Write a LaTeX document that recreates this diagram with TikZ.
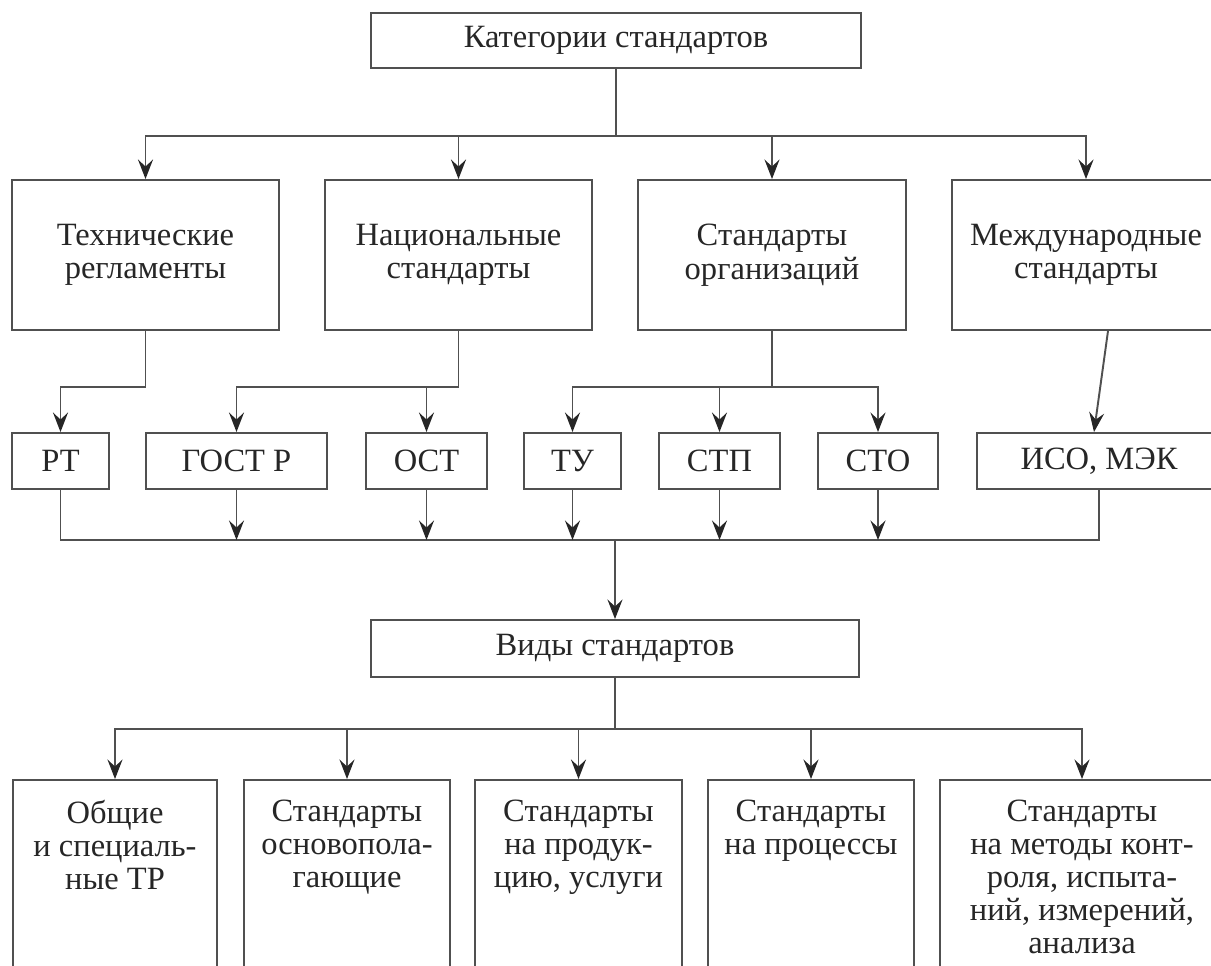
\documentclass[tikz,border=0pt]{standalone}
\usepackage{fontspec}
\setmainfont{Liberation Serif}
\usetikzlibrary{arrows.meta,positioning}
\definecolor{lines}{HTML}{505050}
\definecolor{ink}{HTML}{262626}
\tikzset{
  box/.style={draw=lines, line width=1.1pt, rectangle, inner sep=0pt, align=center, text=ink, font=\fontsize{18.5}{19}\selectfont},
  txt/.style={inner sep=0pt, align=center, text=ink, font=\fontsize{18.5}{18.8}\selectfont},
}
\begin{document}
\begin{tikzpicture}[>={Stealth[length=3.9mm,width=3mm,inset=1.4mm,color=ink]}, line width=1.1pt, draw=lines]
\clip (0,0) rectangle (24.22,-19.3);
\coordinate (b1) at (0,-2.72);
\coordinate (b2) at (0,-7.74);
\coordinate (b3) at (0,-10.8);
\coordinate (b4) at (0,-14.58);
% categories
\node[box, minimum width=9.8cm, minimum height=1.1cm] (cat) at (12.32,-0.81) {Категории стандартов};
\node[box, minimum width=5.34cm, minimum height=3cm] (tr) at (2.91,-5.1) {Технические\\регламенты};
\node[box, minimum width=5.34cm, minimum height=3cm] (nat) at (9.17,-5.1) {Национальные\\стандарты};
\node[box, minimum width=5.36cm, minimum height=3cm] (org) at (15.44,-5.1) {Стандарты\\организаций};
\node[box, minimum width=5.36cm, minimum height=3cm] (intl) at (21.72,-5.1) {Международные\\стандарты};
% documents
\node[box, minimum width=1.94cm, minimum height=1.12cm] (rt) at (1.21,-9.22) {РТ};
\node[box, minimum width=3.62cm, minimum height=1.12cm] (gost) at (4.73,-9.22) {ГОСТ Р};
\node[box, minimum width=2.42cm, minimum height=1.12cm] (ost) at (8.53,-9.22) {ОСТ};
\node[box, minimum width=1.94cm, minimum height=1.12cm] (tu) at (11.45,-9.22) {ТУ};
\node[box, minimum width=2.42cm, minimum height=1.12cm] (stp) at (14.39,-9.22) {СТП};
\node[box, minimum width=2.4cm, minimum height=1.12cm] (sto) at (17.56,-9.22) {СТО};
\node[box, minimum width=4.88cm, minimum height=1.12cm] (iso) at (21.98,-9.22) {ИСО, МЭК};
% kinds
\node[box, minimum width=9.76cm, minimum height=1.14cm] (vid) at (12.3,-12.97) {Виды стандартов};
\node[box, minimum width=4.08cm, minimum height=4.8cm] (v1) at (2.3,-18) {};
\node[box, minimum width=4.12cm, minimum height=4.8cm] (v2) at (6.94,-18) {};
\node[box, minimum width=4.14cm, minimum height=4.8cm] (v3) at (11.57,-18) {};
\node[box, minimum width=4.12cm, minimum height=4.8cm] (v4) at (16.22,-18) {};
\node[box, minimum width=5.68cm, minimum height=4.8cm] (v5) at (21.64,-18) {};
\node[txt, below=0.4cm of v1.north] (v1t) {Общие\\и специаль-\\ные ТР};
\node[txt, below=0.4cm of v2.north] (v2t) {Стандарты\\основопола-\\гающие};
\node[txt, below=0.4cm of v3.north] (v3t) {Стандарты\\на продук-\\цию, услуги};
\node[txt, below=0.4cm of v4.north] (v4t) {Стандарты\\на процессы};
\node[txt, below=0.4cm of v5.north] (v5t) {Стандарты\\на методы конт-\\роля, испыта-\\ний, измерений,\\анализа};

\draw (cat.south) -- (cat.south |- b1);
\draw[->] (cat.south |- b1) -| (tr.north);
\draw[->] (cat.south |- b1) -| (intl.north);
\draw[->] (nat.north |- b1) -- (nat.north);
\draw[->] (org.north |- b1) -- (org.north);

\draw[->] (tr.south) |- (rt.north |- b2) -- (rt.north);
\draw (nat.south) -- (nat.south |- b2);
\draw[->] (nat.south |- b2) -| (gost.north);
\draw[->] (ost.north |- b2) -- (ost.north);
\draw (org.south) -- (org.south |- b2);
\draw[->] (org.south |- b2) -| (tu.north);
\draw[->] (org.south |- b2) -| (sto.north);
\draw[->] (stp.north |- b2) -- (stp.north);
\draw[->] ([xshift=0.44cm]intl.south) -- ([xshift=-0.1cm]iso.north);

\draw (rt.south) |- (iso.south |- b3) -- (iso.south);
\draw[->] (gost.south) -- (gost.south |- b3);
\draw[->] (ost.south) -- (ost.south |- b3);
\draw[->] (tu.south) -- (tu.south |- b3);
\draw[->] (stp.south) -- (stp.south |- b3);
\draw[->] (sto.south) -- (sto.south |- b3);
\draw[->] (vid.north |- b3) -- (vid.north);

\draw (vid.south) -- (vid.south |- b4);
\draw[->] (vid.south |- b4) -| (v1.north);
\draw[->] (vid.south |- b4) -| (v5.north);
\draw[->] (v2.north |- b4) -- (v2.north);
\draw[->] (v3.north |- b4) -- (v3.north);
\draw[->] (v4.north |- b4) -- (v4.north);
\end{tikzpicture}
\end{document}
